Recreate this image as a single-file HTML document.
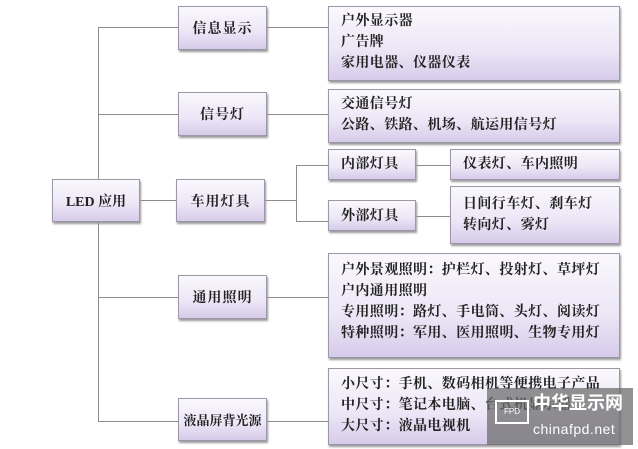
<!DOCTYPE html>
<html><head><meta charset="utf-8"><style>
body{margin:0;width:638px;height:449px;background:#fff;position:relative;overflow:hidden;font-family:"Liberation Serif","Noto Serif CJK SC",serif;}
.b{position:absolute;box-sizing:border-box;border:1px solid #9a98a8;background:linear-gradient(#faf8fd,#ece6f6 60%,#d6cbea);box-shadow:1px 2px 2px #9a9a9a;font-size:14px;font-weight:bold;color:#222;white-space:nowrap;}
.c{display:flex;align-items:center;justify-content:center;}
.t{padding:4px 0 0 12px;line-height:21px;letter-spacing:0.4px;}
.l{position:absolute;background:#8c8c8c;}
</style></head><body>
<div class="l" style="left:98px;top:27px;width:1px;height:395px"></div>
<div class="l" style="left:98px;top:27px;width:80px;height:1px"></div>
<div class="l" style="left:98px;top:114px;width:80px;height:1px"></div>
<div class="l" style="left:140px;top:200px;width:38px;height:1px"></div>
<div class="l" style="left:98px;top:297px;width:80px;height:1px"></div>
<div class="l" style="left:98px;top:421px;width:80px;height:1px"></div>
<div class="l" style="left:267px;top:27px;width:61px;height:1px"></div>
<div class="l" style="left:267px;top:114px;width:61px;height:1px"></div>
<div class="l" style="left:265px;top:200px;width:31px;height:1px"></div>
<div class="l" style="left:296px;top:165px;width:1px;height:56px"></div>
<div class="l" style="left:296px;top:165px;width:32px;height:1px"></div>
<div class="l" style="left:296px;top:221px;width:32px;height:1px"></div>
<div class="l" style="left:416px;top:165px;width:34px;height:1px"></div>
<div class="l" style="left:416px;top:216px;width:34px;height:1px"></div>
<div class="l" style="left:267px;top:297px;width:61px;height:1px"></div>
<div class="l" style="left:267px;top:421px;width:61px;height:1px"></div>

<div class="b c" style="left:52px;top:179px;width:88px;height:43px">LED 应用</div>
<div class="b c" style="left:178px;top:6px;width:89px;height:44px;letter-spacing:1px">信息显示</div>
<div class="b c" style="left:178px;top:92px;width:89px;height:44px;letter-spacing:1px">信号灯</div>
<div class="b c" style="left:176px;top:179px;width:89px;height:43px;letter-spacing:1px">车用灯具</div>
<div class="b c" style="left:178px;top:275px;width:89px;height:44px;letter-spacing:1px">通用照明</div>
<div class="b c" style="left:178px;top:398px;width:89px;height:43px;font-size:13px">液晶屏背光源</div>

<div class="b t" style="left:328px;top:6px;width:292px;height:75px">户外显示器<br>广告牌<br>家用电器、仪器仪表</div>
<div class="b t" style="left:328px;top:89px;width:292px;height:54px">交通信号灯<br>公路、铁路、机场、航运用信号灯</div>
<div class="b t" style="left:328px;top:149px;width:88px;height:31px;padding-top:4px">内部灯具</div>
<div class="b t" style="left:328px;top:200px;width:88px;height:31px;padding-top:5px">外部灯具</div>
<div class="b t" style="left:450px;top:149px;width:170px;height:31px">仪表灯、车内照明</div>
<div class="b t" style="left:450px;top:186px;width:170px;height:58px;padding-top:7px">日间行车灯、刹车灯<br>转向灯、雾灯</div>
<div class="b t" style="left:328px;top:253px;width:292px;height:105px;padding-top:6px">户外景观照明：护栏灯、投射灯、草坪灯<br>户内通用照明<br>专用照明：路灯、手电筒、头灯、阅读灯<br>特种照明：军用、医用照明、生物专用灯</div>
<div class="b t" style="left:328px;top:368px;width:292px;height:77px;padding-top:5px">小尺寸：手机、数码相机等便携电子产品<br>中尺寸：笔记本电脑、台式机显示器<br>大尺寸：液晶电视机</div>

<div style="position:absolute;left:487px;top:388px;width:146px;height:57px;background:rgba(110,110,110,0.75);color:#fff;font-family:'Liberation Sans','Noto Sans CJK SC',sans-serif;white-space:nowrap">
<div style="position:absolute;left:8px;top:12px;width:30px;height:20px;border:2px solid #fff;font-size:8px;text-align:center;line-height:20px">FPD</div>
<div style="position:absolute;left:46px;top:2px;font-size:18px;font-weight:bold;line-height:26px">中华显示网</div>
<div style="position:absolute;left:46px;top:33px;font-size:14px;letter-spacing:0.5px">chinafpd.net</div>
</div>
</body></html>
